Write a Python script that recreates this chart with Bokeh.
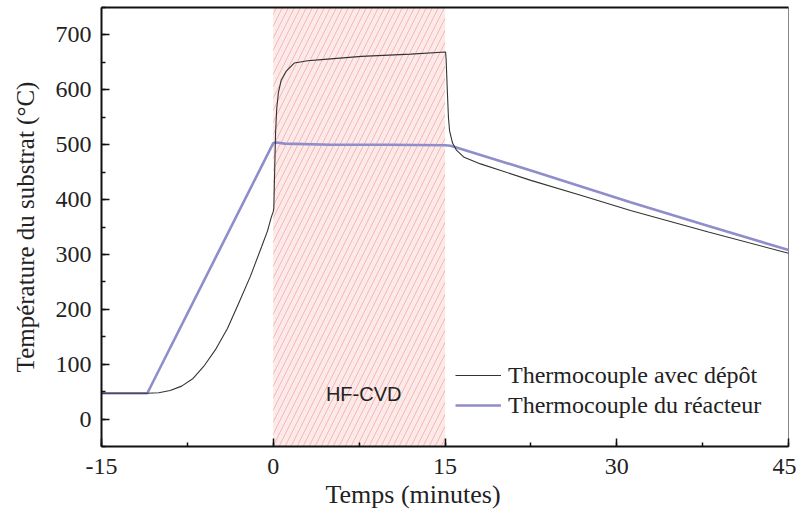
from bokeh.plotting import figure
from bokeh.models import (BoxAnnotation, LinearAxis, SingleIntervalTicker, FixedTicker, Legend,
                          LegendItem, Label, CustomJSTickFormatter, Title)
from bokeh.embed import file_html
from bokeh.resources import INLINE

# ---- data ----
t_depot = [-15, -11, -10, -9, -8, -7, -6, -5, -4, -3, -2, -1, -0.5, -0.17, 0.0, 0.05,
           0.12, 0.2, 0.3, 0.45, 0.7, 1.1, 1.85, 3, 4.2, 7.7, 12, 15.05, 15.1, 15.2,
           15.3, 15.4, 15.66, 16.0, 16.67, 18.1, 22.5, 26.85, 31.2, 38, 45]
temp_depot = [47, 47, 48, 52, 60, 74, 98, 128, 165, 212, 260, 315, 343, 368, 378, 384,
              450, 520, 565, 595, 618, 633, 649, 653, 655, 661, 665, 669, 655, 600,
              550, 525, 503, 490, 477, 465, 435, 408, 380, 341, 302]

t_reacteur = [-15, -11, 0, 0.3, 1, 5, 10, 15, 15.5, 22.5, 31.2, 38, 45]
temp_reacteur = [47, 47, 503, 504, 502, 500, 500, 499, 498, 453, 395, 352, 308]

hf_start, hf_end = 0, 15
hf_label = "HF-CVD"
series_names = ["Thermocouple avec dépôt", "Thermocouple du réacteur"]
x_title = "Temps (minutes)"
y_title = "Température du substrat (°C)"

SERIF = "Liberation Serif"

p = figure(width=796, height=512, x_range=(-15, 45), y_range=(-50, 750),
           output_backend="svg", toolbar_location=None,
           min_border_left=101, min_border_right=8, min_border_top=7, min_border_bottom=66)
p.grid.visible = False
p.outline_line_color = "#888888"
p.outline_line_width = 1

# hatched HF-CVD region
box = BoxAnnotation(left=hf_start, right=hf_end, fill_color="#fce9e9", fill_alpha=1.0,
                    hatch_pattern="/", hatch_color="#f6b8b0", hatch_weight=1, hatch_scale=12,
                    line_color=None, level="underlay")
p.add_layout(box)

p.add_layout(Label(x=7.9, y=45, text=hf_label, text_align="center",
                   text_baseline="middle", text_font="Liberation Sans",
                   text_font_size="20px", text_color="#222222"))

r2 = p.line(t_reacteur, temp_reacteur, line_color="#8f8dca", line_width=2.6)
r1 = p.line(t_depot, temp_depot, line_color="#333333", line_width=1.1)

legend = Legend(items=[LegendItem(label=series_names[0], renderers=[r1]),
                       LegendItem(label=series_names[1], renderers=[r2])],
                location=(354, 26), border_line_color=None, background_fill_alpha=0,
                label_text_font=SERIF, label_text_font_size="24px",
                label_text_color="#222222", glyph_width=46, label_standoff=7,
                spacing=0, padding=0, margin=0, label_height=30, glyph_height=30)
p.add_layout(legend)

for ax in (p.xaxis[0], p.yaxis[0]):
    ax.axis_line_width = 2
    ax.axis_line_color = "#111111"
    ax.major_tick_in = 8
    ax.major_tick_out = 0
    ax.minor_tick_in = 4
    ax.minor_tick_out = 0
    ax.major_tick_line_width = 1.5
    ax.minor_tick_line_width = 1.5
    ax.major_tick_line_color = "#111111"
    ax.minor_tick_line_color = "#111111"
    ax.major_label_text_font = SERIF
    ax.major_label_text_font_size = "24px"
    ax.major_label_text_color = "#222222"
    ax.axis_label_text_font = SERIF
    ax.axis_label_text_font_style = "normal"
    ax.axis_label_text_color = "#222222"
    ax.formatter = CustomJSTickFormatter(code="return tick.toString();")

p.xaxis[0].ticker = SingleIntervalTicker(interval=15, num_minor_ticks=2)
p.xaxis[0].major_label_standoff = 12

p.yaxis[0].ticker = SingleIntervalTicker(interval=100, num_minor_ticks=2)
p.yaxis[0].axis_label = y_title
p.yaxis[0].axis_label_text_font_size = "25px"
p.yaxis[0].major_label_standoff = 10
p.yaxis[0].axis_label_standoff = 14

xt = Title(text=x_title, align="left", offset=224, text_font=SERIF, text_font_size="26px",
           text_font_style="normal", text_color="#222222", standoff=3)
p.add_layout(xt, "below")

top = LinearAxis(ticker=FixedTicker(ticks=[]), axis_line_width=2, axis_line_color="#111111",
                 major_tick_line_color=None, minor_tick_line_color=None,
                 major_label_text_font_size="0px")
p.add_layout(top, "above")

open("out.html", "w").write(file_html(p, INLINE))
